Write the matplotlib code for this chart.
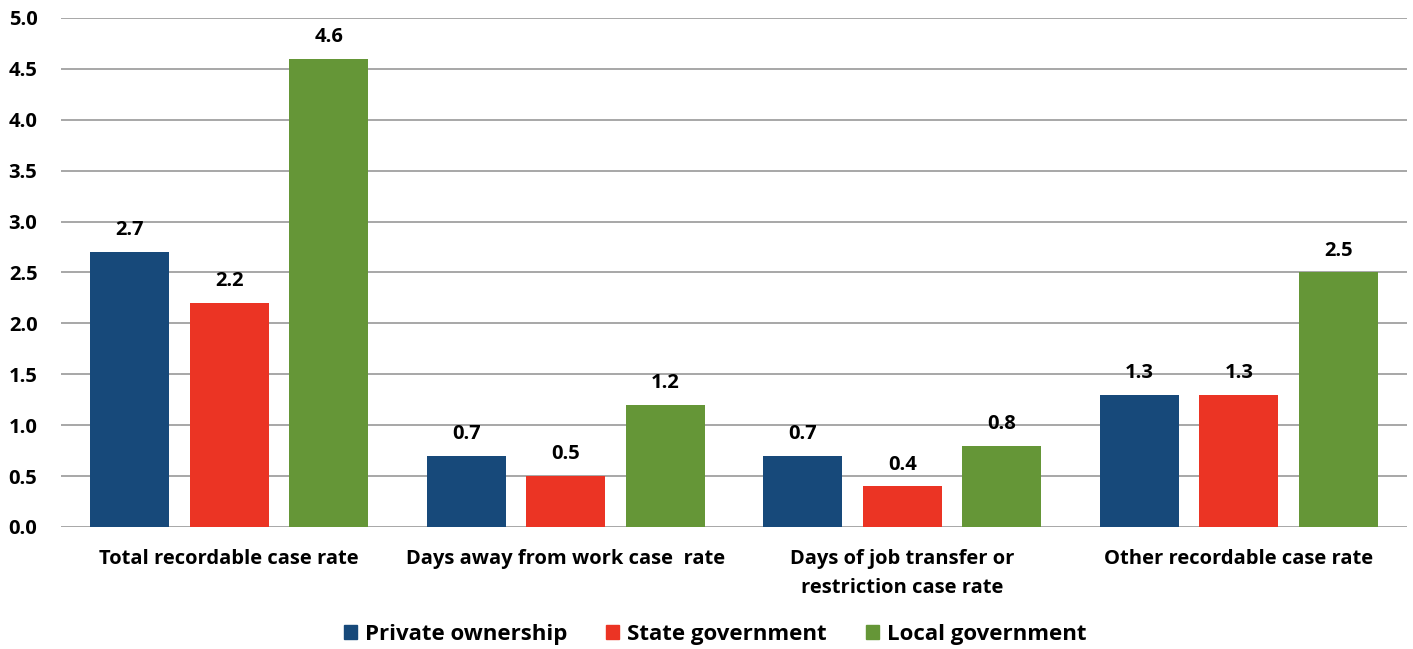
import numpy as np
import matplotlib.pyplot as plt
from matplotlib.patches import Patch

plt.rcParams['font.family'] = ['Open Sans', 'DejaVu Sans']
plt.rcParams['font.weight'] = 'bold'

categories = ['Total recordable case rate', 'Days away from work case  rate',
              'Days of job transfer or\nrestriction case rate', 'Other recordable case rate']
series = ['Private ownership', 'State government', 'Local government']
private_vals = [2.7, 0.7, 0.7, 1.3]
state_vals = [2.2, 0.5, 0.4, 1.3]
local_vals = [4.6, 1.2, 0.8, 2.5]
colors = ['#17497a', '#eb3424', '#659637']

fig = plt.figure(figsize=(14.13, 6.49), dpi=100)
ax = fig.add_axes([0.0432, 0.188, 0.9526, 0.7843])

x = np.arange(len(categories))
width = 0.235
pitch = 0.296
for i, (vals, c) in enumerate(zip([private_vals, state_vals, local_vals], colors)):
    pos = x + (i - 1) * pitch
    bars = ax.bar(pos, vals, width=width, color=c, zorder=3)
    for b, v in zip(bars, vals):
        ax.text(b.get_x() + b.get_width() / 2, v + 0.115, '%.1f' % v,
                ha='center', va='bottom', fontsize=14.5, fontweight='bold')

ax.set_xlim(-0.5, 3.5)
ax.set_ylim(0, 5.0)
ax.set_yticks(np.arange(0, 5.01, 0.5))
ax.set_yticklabels(['%.1f' % v for v in np.arange(0, 5.01, 0.5)], fontsize=14.5, fontweight='bold')
ax.set_xticks(x)
ax.set_xticklabels(categories, fontsize=14.5, fontweight='bold', linespacing=1.6)
ax.tick_params(axis='both', length=0)
ax.tick_params(axis='x', pad=16)
ax.tick_params(axis='y', pad=17)
ax.grid(axis='y', color='#a0a0a0', linewidth=1.3, zorder=0)
for s in ax.spines.values():
    s.set_visible(False)

handles = [Patch(color=c, label=s) for c, s in zip(colors, series)]
fig.legend(handles=handles, loc='center', bbox_to_anchor=(0.506, 0.022), ncol=3,
           frameon=False, handlelength=0.6, handleheight=0.6,
           handletextpad=0.35, columnspacing=1.75,
           prop={'weight': 'bold', 'size': 16})

fig.savefig('out.png', dpi=100)
